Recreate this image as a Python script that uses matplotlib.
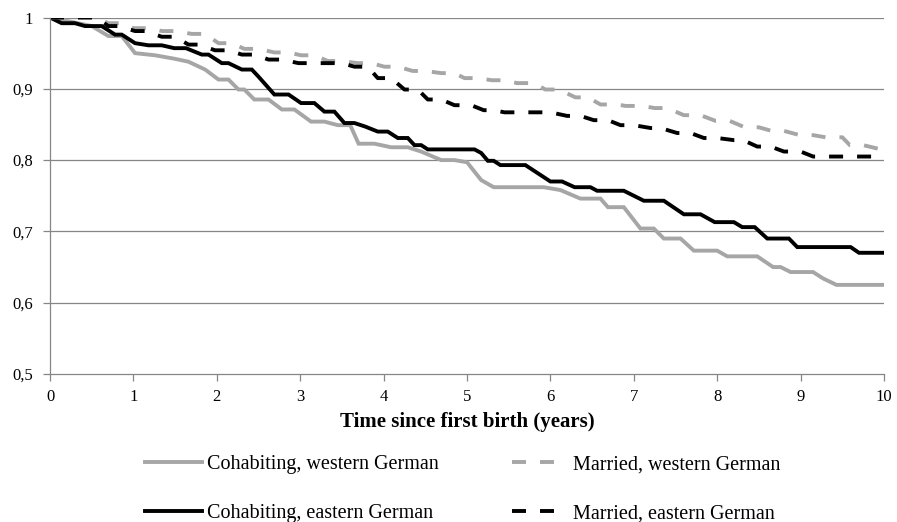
import matplotlib
matplotlib.use("Agg")
import matplotlib.pyplot as plt
from matplotlib.ticker import FuncFormatter

# survival curves (time in years, share)
cw_t = [0, 0.5, 0.7, 0.86, 1.02, 1.26, 1.5, 1.66, 1.86, 2.02, 2.14, 2.26, 2.33, 2.45, 2.62, 2.78,
        2.93, 3.13, 3.29, 3.45, 3.6, 3.7, 3.89, 4.09, 4.29, 4.45, 4.69, 4.85, 5.0, 5.17, 5.32, 5.92,
        6.12, 6.36, 6.6, 6.69, 6.88, 7.08, 7.24, 7.36, 7.56, 7.72, 8.0, 8.12, 8.48, 8.67, 8.76, 8.88,
        9.15, 9.27, 9.43, 10]
cw_v = [1.0, 0.988, 0.974, 0.974, 0.95, 0.947, 0.942, 0.938, 0.927, 0.913, 0.913, 0.899, 0.899,
        0.885, 0.885, 0.871, 0.871, 0.854, 0.854, 0.849, 0.849, 0.823, 0.823, 0.818, 0.818, 0.812,
        0.80, 0.80, 0.797, 0.772, 0.762, 0.762, 0.758, 0.746, 0.746, 0.734, 0.734, 0.704, 0.704,
        0.69, 0.69, 0.673, 0.673, 0.665, 0.665, 0.65, 0.65, 0.643, 0.643, 0.634, 0.625, 0.625]

ce_t = [0, 0.14, 0.3, 0.42, 0.62, 0.78, 0.86, 1.02, 1.18, 1.34, 1.49, 1.63, 1.82, 1.9, 2.06, 2.14,
        2.3, 2.42, 2.5, 2.69, 2.86, 3.01, 3.17, 3.29, 3.41, 3.53, 3.65, 3.78, 3.93, 4.05, 4.17, 4.29,
        4.37, 4.45, 4.53, 5.09, 5.17, 5.25, 5.32, 5.4, 5.7, 6.0, 6.14, 6.29, 6.48, 6.56, 6.88, 7.12,
        7.36, 7.6, 7.8, 7.97, 8.2, 8.3, 8.45, 8.6, 8.86, 8.96, 9.6, 9.7, 10]
ce_v = [1.0, 0.992, 0.992, 0.988, 0.988, 0.976, 0.976, 0.964, 0.961, 0.961, 0.957, 0.957, 0.948,
        0.948, 0.936, 0.936, 0.927, 0.927, 0.917, 0.892, 0.892, 0.88, 0.88, 0.868, 0.868, 0.852,
        0.852, 0.847, 0.84, 0.84, 0.831, 0.831, 0.821, 0.821, 0.815, 0.815, 0.81, 0.799, 0.799,
        0.793, 0.793, 0.77, 0.77, 0.762, 0.762, 0.757, 0.757, 0.743, 0.743, 0.724, 0.724, 0.713,
        0.713, 0.706, 0.706, 0.69, 0.69, 0.678, 0.678, 0.67, 0.67]

mw_t = [0, 0.55, 0.7, 0.86, 1.0, 1.2, 1.34, 1.5, 1.7, 1.86, 2.02, 2.18, 2.33, 2.5, 2.69, 2.86, 3.01,
        3.17, 3.33, 3.49, 3.69, 3.85, 4.01, 4.17, 4.35, 4.5, 4.69, 4.85, 4.97, 5.12, 5.3, 5.46, 5.6,
        5.8, 5.94, 6.1, 6.3, 6.45, 6.6, 6.8, 6.9, 7.1, 7.25, 7.4, 7.6, 7.8, 7.98, 8.15, 8.33, 8.5,
        8.65, 8.8, 8.99, 9.15, 9.3, 9.5, 9.59, 9.75, 10]
mw_v = [1.0, 1.0, 0.992, 0.992, 0.985, 0.985, 0.981, 0.981, 0.977, 0.977, 0.964, 0.964, 0.956,
        0.956, 0.951, 0.951, 0.947, 0.947, 0.939, 0.939, 0.936, 0.936, 0.931, 0.931, 0.925, 0.925,
        0.922, 0.922, 0.915, 0.915, 0.912, 0.912, 0.908, 0.908, 0.899, 0.899, 0.888, 0.888, 0.878,
        0.878, 0.876, 0.876, 0.873, 0.873, 0.863, 0.863, 0.855, 0.855, 0.846, 0.846, 0.841, 0.841,
        0.835, 0.835, 0.832, 0.832, 0.821, 0.821, 0.814]

me_t = [0, 0.55, 0.7, 0.82, 1.02, 1.14, 1.34, 1.5, 1.66, 1.78, 1.98, 2.14, 2.3, 2.45, 2.62, 2.78,
        2.98, 3.5, 3.65, 3.81, 3.93, 4.09, 4.25, 4.41, 4.53, 4.69, 4.85, 5.05, 5.2, 5.32, 5.45, 6.0,
        6.2, 6.36, 6.52, 6.69, 6.84, 7.0, 7.2, 7.32, 7.52, 7.68, 7.84, 8.0, 8.2, 8.31, 8.48, 8.64,
        8.8, 9.0, 9.15, 10]
me_v = [1.0, 1.0, 0.988, 0.988, 0.981, 0.981, 0.973, 0.973, 0.962, 0.962, 0.954, 0.954, 0.948,
        0.948, 0.941, 0.941, 0.936, 0.936, 0.931, 0.931, 0.915, 0.915, 0.899, 0.899, 0.885, 0.885,
        0.877, 0.877, 0.870, 0.870, 0.867, 0.867, 0.862, 0.862, 0.856, 0.856, 0.849, 0.849, 0.845,
        0.845, 0.838, 0.838, 0.831, 0.831, 0.828, 0.828, 0.819, 0.819, 0.812, 0.812, 0.805, 0.805]

labels = ["Cohabiting, western German", "Cohabiting, eastern German",
          "Married, western German", "Married, eastern German"]

x_ticks = list(range(0, 11))
y_ticks = [0.5, 0.6, 0.7, 0.8, 0.9, 1.0]

plt.rcParams['font.family'] = ['Liberation Serif', 'DejaVu Serif']

GRAY = '#a6a6a6'
AXIS = '#868686'
W, H = 897, 522

fig = plt.figure(figsize=(W / 100, H / 100), dpi=100)
ax = fig.add_axes([50 / W, 1 - 374 / H, 834 / W, 356.5 / H])

lw = 2.8
dash = (3.6, 3.6)
ax.plot(cw_t, cw_v, color=GRAY, lw=lw, label=labels[0], solid_joinstyle='miter')
ax.plot(ce_t, ce_v, color='black', lw=lw, label=labels[1], solid_joinstyle='miter')
ax.plot(mw_t, mw_v, color=GRAY, lw=lw, dashes=dash, label=labels[2])
ax.plot(me_t, me_v, color='black', lw=lw, dashes=dash, label=labels[3])

ax.set_xlim(0, 10)
ax.set_ylim(0.5, 1.0)
ax.set_xticks(x_ticks)
ax.set_yticks(y_ticks)
ax.yaxis.set_major_formatter(FuncFormatter(
    lambda v, p: '1' if abs(v - 1) < 1e-9 else f'{v:.1f}'.replace('.', ',')))

for yv in y_ticks[1:]:
    ax.axhline(yv, color=AXIS, lw=0.9, zorder=0)

for side in ['top', 'right']:
    ax.spines[side].set_visible(False)
for side in ['left', 'bottom']:
    ax.spines[side].set_color(AXIS)
    ax.spines[side].set_linewidth(0.9)
ax.tick_params(axis='both', colors=AXIS, labelcolor='black', labelsize=12, length=5, width=0.9)
ax.tick_params(axis='x', pad=6)
ax.tick_params(axis='y', pad=7)

ax.set_xlabel('Time since first birth (years)', fontsize=15, fontweight='bold', labelpad=5)

# two separate legend columns, as in the original layout
h, l = ax.get_legend_handles_labels()
top = 1 - 455 / H
fig.legend(h[:2], l[:2], loc='upper left', frameon=False, fontsize=14.5,
           bbox_to_anchor=(145 / W, top), labelspacing=1.5, handlelength=2.85,
           handletextpad=0.25, borderpad=0, borderaxespad=0)
fig.legend(h[2:], l[2:], loc='upper left', frameon=False, fontsize=14.5,
           bbox_to_anchor=(512 / W, top), labelspacing=1.5, handlelength=2.25,
           handletextpad=0.8, borderpad=0, borderaxespad=0)

fig.savefig('out.png', dpi=100)
